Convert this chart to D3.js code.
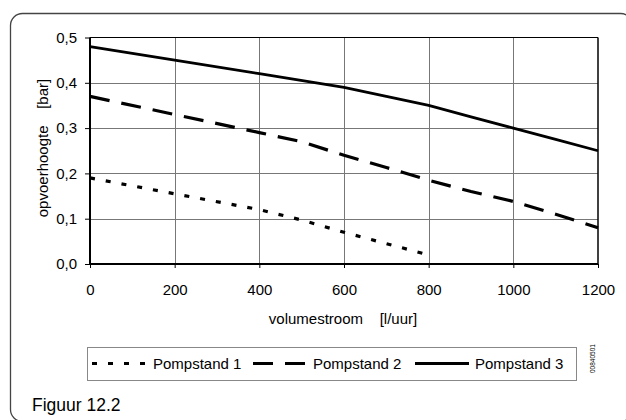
<!DOCTYPE html>
<html><head><meta charset="utf-8">
<script src="https://cdn.jsdelivr.net/npm/d3@7"></script>
<style>body{margin:0;background:#fff}svg{display:block}text{font-family:"Liberation Sans",Arial,sans-serif;fill:#000}</style>
</head><body><svg id="c" width="626" height="420"></svg>
<script>
const xTicks = [0, 200, 400, 600, 800, 1000, 1200];
const yTicks = [0, 0.1, 0.2, 0.3, 0.4, 0.5];
const flow1 = [0, 200, 400, 500, 600, 700, 800];
const pomp1 = [0.19, 0.155, 0.12, 0.097, 0.07, 0.045, 0.02];
const flow2 = [0, 200, 400, 500, 600, 700, 800, 900, 1000, 1100, 1200];
const pomp2 = [0.37, 0.33, 0.29, 0.27, 0.24, 0.213, 0.185, 0.16, 0.138, 0.11, 0.08];
const flow3 = [0, 200, 400, 600, 700, 800, 900, 1000, 1100, 1200];
const pomp3 = [0.48, 0.45, 0.42, 0.39, 0.37, 0.35, 0.325, 0.30, 0.275, 0.25];
const seriesNames = ["Pompstand 1", "Pompstand 2", "Pompstand 3"];
const xTitle = "volumestroom    [l/uur]";
const yTitle = "opvoerhoogte    [bar]";
const figLabel = "Figuur 12.2";
const codeLabel = "00840501";

const svg = d3.select("#c");
const L = 90, R = 598, T = 37.5, B = 264;
const x = d3.scaleLinear().domain([0, 1200]).range([L, R]);
const y = d3.scaleLinear().domain([0, 0.5]).range([B, T]);
const fmt = d => d3.format(".1f")(d).replace(".", ",");
const FONT = '"Liberation Sans",Arial,sans-serif';

// outer rounded frame
svg.append("rect").attr("x", 10.5).attr("y", 13.5).attr("width", 622).attr("height", 408)
  .attr("rx", 12).attr("fill", "none").attr("stroke", "#444").attr("stroke-width", 1.3);

// grid
const g = svg.append("g");
g.selectAll(".vg").data(xTicks.slice(1, -1)).join("line")
  .attr("x1", d => Math.round(x(d)) + 0.5).attr("x2", d => Math.round(x(d)) + 0.5)
  .attr("y1", T).attr("y2", B).attr("stroke", "#777").attr("stroke-width", 1);
g.selectAll(".hg").data(yTicks.slice(1, -1)).join("line")
  .attr("y1", d => Math.round(y(d)) + 0.5).attr("y2", d => Math.round(y(d)) + 0.5)
  .attr("x1", L).attr("x2", R).attr("stroke", "#777").attr("stroke-width", 1);
// plot border top/right
g.append("line").attr("x1", L).attr("x2", R).attr("y1", T).attr("y2", T).attr("stroke", "#000").attr("stroke-width", 1.2);
g.append("line").attr("x1", R).attr("x2", R).attr("y1", T).attr("y2", B).attr("stroke", "#000").attr("stroke-width", 1.5);

// axes
const yAxis = svg.append("g").attr("transform", `translate(${L},0)`)
  .call(d3.axisLeft(y).tickValues(yTicks).tickFormat(fmt).tickSize(5).tickPadding(8));
const xAxis = svg.append("g").attr("transform", `translate(0,${B})`)
  .call(d3.axisBottom(x).tickValues(xTicks).tickFormat(d3.format("d")).tickSize(4).tickPadding(16));
[yAxis, xAxis].forEach(a => {
  a.select(".domain").attr("stroke", "#000").attr("stroke-width", 2);
  a.selectAll(".tick line").attr("stroke", "#000");
  a.selectAll("text").style("font-size", "15px").attr("fill", "#000").style("font-family", FONT);
});
yAxis.select(".domain").attr("d", `M0,${T}V${B}`);
xAxis.select(".domain").attr("d", `M${L},0H${R}`);

// lines
const styles = [
  {dash: "5,11", w: 3.2},
  {dash: "20,12", w: 3.2},
  {dash: null, w: 2.8}
];
const data = [
  flow1.map((f, i) => [f, pomp1[i]]),
  flow2.map((f, i) => [f, pomp2[i]]),
  flow3.map((f, i) => [f, pomp3[i]])
];
const line = d3.line().x(d => x(d[0])).y(d => y(d[1]));
data.forEach((d, i) => {
  svg.append("path").datum(d).attr("d", line).attr("fill", "none")
    .attr("stroke", "#000").attr("stroke-width", styles[i].w)
    .attr("stroke-dasharray", styles[i].dash);
});

// titles
svg.append("text").attr("x", 343).attr("y", 324).attr("text-anchor", "middle")
  .style("font-size", "15px").style("white-space", "pre").text(xTitle);
svg.append("text").attr("transform", "translate(47.5,148) rotate(-90)").attr("text-anchor", "middle")
  .style("font-size", "15px").style("white-space", "pre").text(yTitle);

// legend
const lg = svg.append("g");
lg.append("rect").attr("x", 87.5).attr("y", 347.5).attr("width", 489).attr("height", 33)
  .attr("fill", "#fff").attr("stroke", "#888").attr("stroke-width", 1);
const items = [
  {x1: 92, x2: 152, tx: 153},
  {x1: 253, x2: 310, tx: 313},
  {x1: 415, x2: 469, tx: 475}
];
items.forEach((it, i) => {
  lg.append("line").attr("x1", it.x1).attr("x2", it.x2).attr("y1", 363.5).attr("y2", 363.5)
    .attr("stroke", "#000").attr("stroke-width", 3).attr("stroke-dasharray", styles[i].dash);
  lg.append("text").attr("x", it.tx).attr("y", 368.5).style("font-size", "15px").text(seriesNames[i]);
});
svg.append("text").attr("transform", "translate(595,373) rotate(-90)")
  .style("font-size", "6.5px").text(codeLabel);

svg.append("text").attr("x", 32).attr("y", 411).style("font-size", "17.5px").text(figLabel);
</script></body></html>
